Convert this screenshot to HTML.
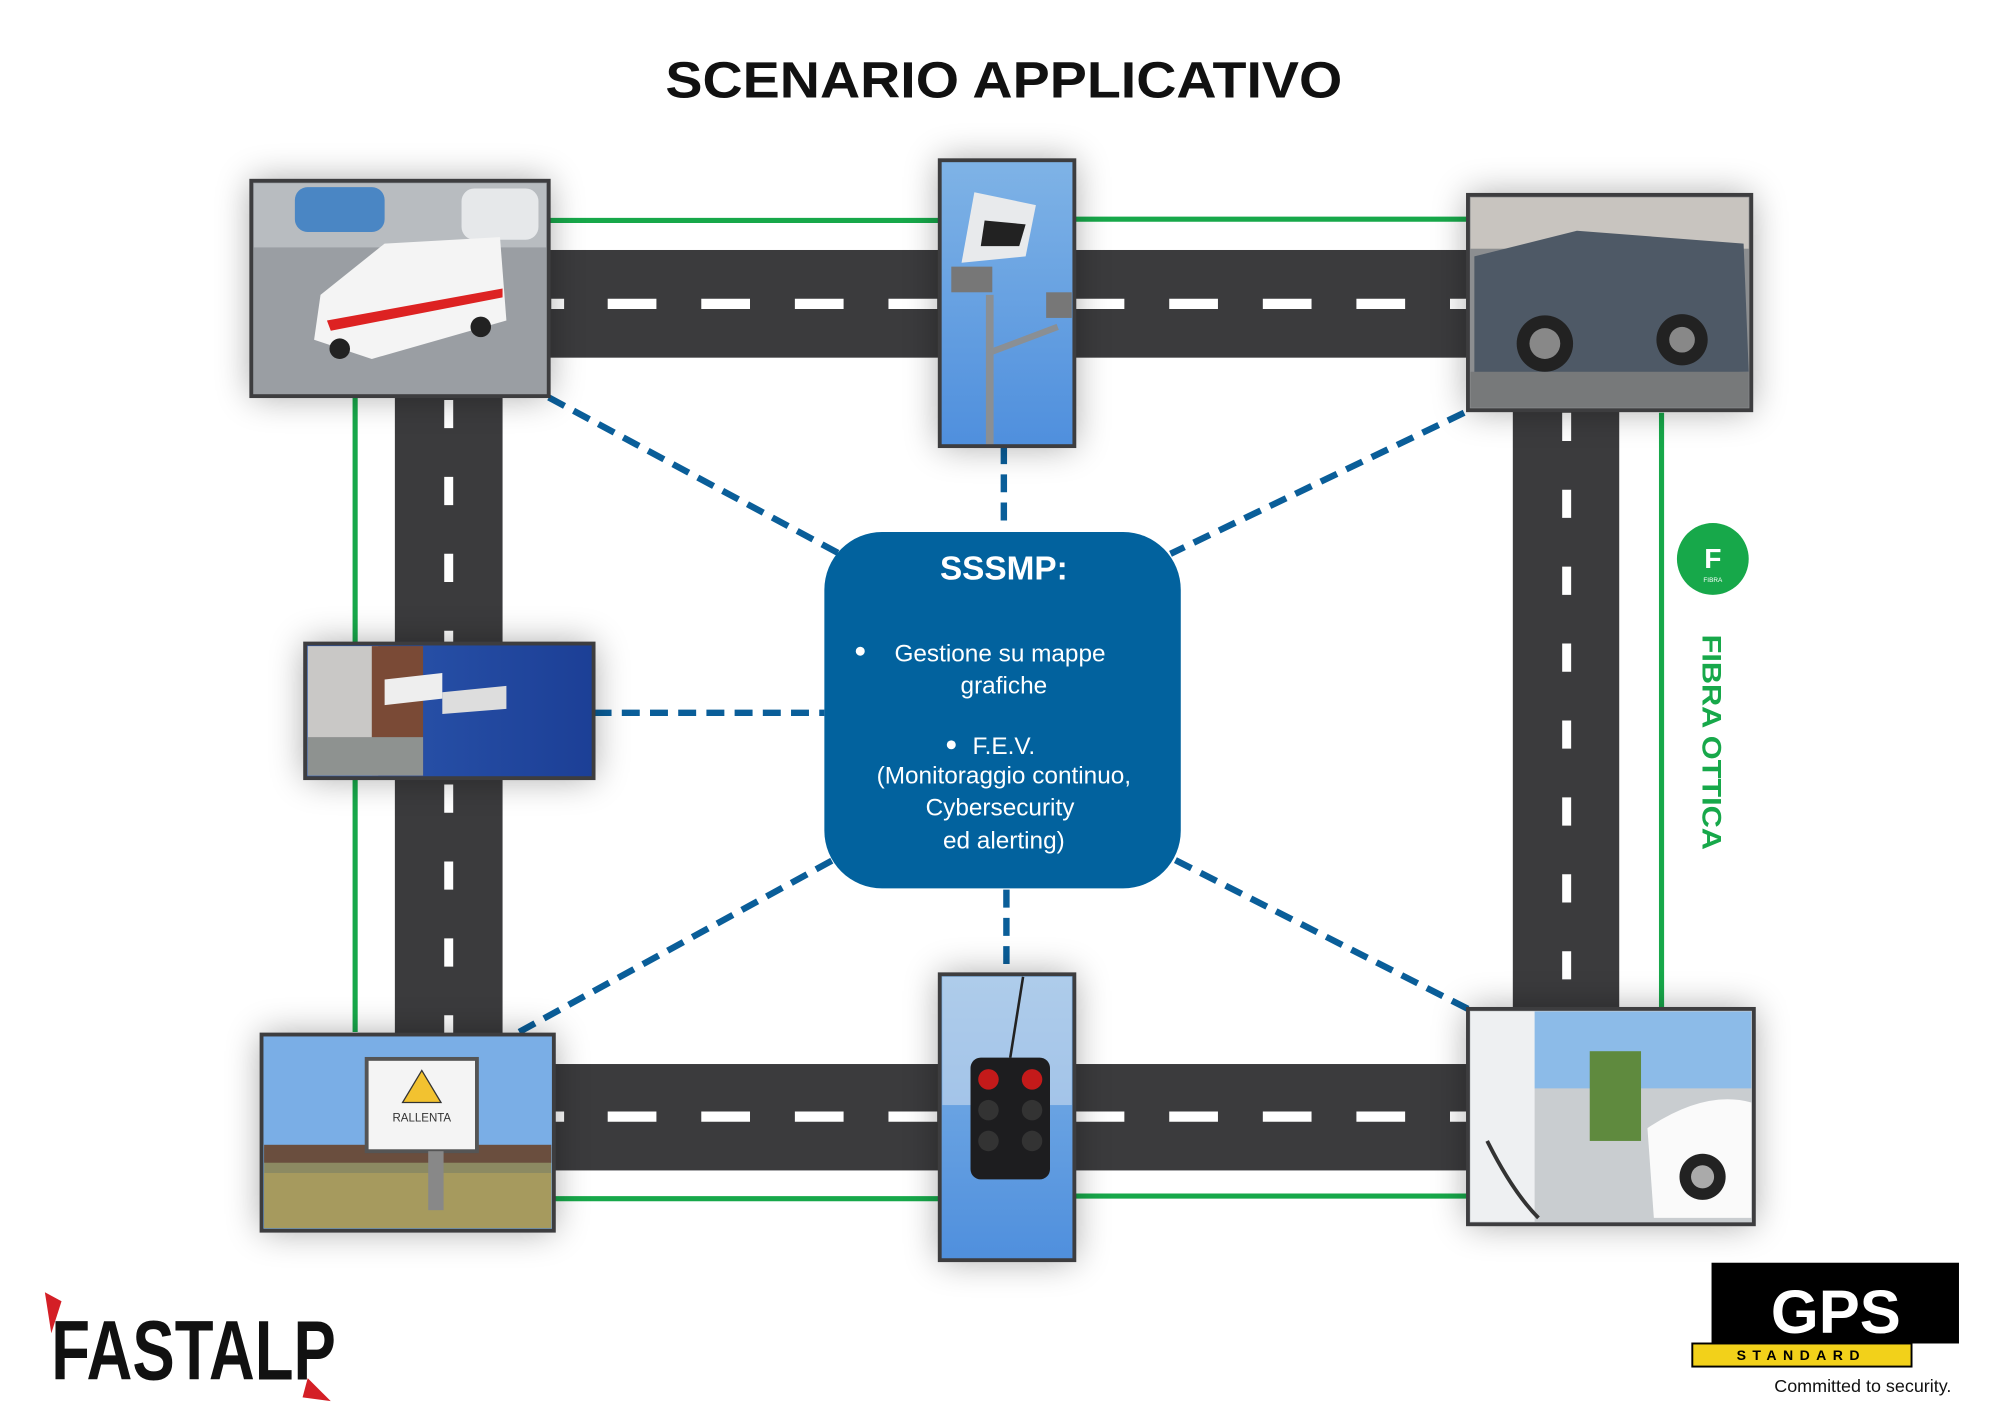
<!DOCTYPE html>
<html><head><meta charset="utf-8"><style>
html,body{margin:0;padding:0;background:#fff;}
svg{display:block;}
text{font-family:"Liberation Sans",sans-serif;}
</style></head><body>
<svg width="2000" height="1414" viewBox="0 0 1560 1103" preserveAspectRatio="none" xmlns="http://www.w3.org/2000/svg">
<defs>
<filter id="sh" x="-30%" y="-30%" width="160%" height="160%"><feGaussianBlur stdDeviation="14"/></filter>
<linearGradient id="sky" x1="0" y1="0" x2="0" y2="1"><stop offset="0" stop-color="#7fb3e6"/><stop offset="1" stop-color="#4f8fdd"/></linearGradient>
<linearGradient id="sky2" x1="0" y1="0" x2="1" y2="0"><stop offset="0" stop-color="#2d59b0"/><stop offset="1" stop-color="#1c3f96"/></linearGradient>
</defs>
<rect width="1560" height="1103" fill="#fff"/>
<text x="519" y="76" font-size="40" font-weight="bold" fill="#111" textLength="528" lengthAdjust="spacingAndGlyphs">SCENARIO APPLICATIVO</text>

<g stroke="#17a84a" stroke-width="4" fill="none">
<line x1="428" y1="172" x2="733" y2="172"/><line x1="838" y1="171" x2="1145" y2="171"/>
<line x1="432" y1="935" x2="733" y2="935"/><line x1="838" y1="933" x2="1145" y2="933"/>
<line x1="277" y1="310" x2="277" y2="502"/><line x1="277" y1="607" x2="277" y2="805"/>
<line x1="1296" y1="322" x2="1296" y2="787"/>
</g>

<g fill="#3b3b3d">
<rect x="428" y="195" width="717" height="84"/>
<rect x="430" y="830" width="715" height="83"/>
<rect x="308" y="305" width="84" height="505"/>
<rect x="1180" y="318" width="83" height="472"/>
</g>
<g stroke="#fff" stroke-width="8">
<line x1="430" y1="237" x2="1145" y2="237" stroke-dasharray="10 34 38 35 38 35 38 35 38 35 38 35 38 35 38 35 38 35 38 35 38 35"/>
<line x1="430" y1="871" x2="1145" y2="871" stroke-dasharray="10 34 38 35 38 35 38 35 38 35 38 35 38 35 38 35 38 35 38 35 38 35"/>
</g>
<g stroke="#fff" stroke-width="7">
<line x1="350" y1="312" x2="350" y2="808" stroke-dasharray="22 38"/>
<line x1="1222" y1="322" x2="1222" y2="787" stroke-dasharray="22 38"/>
</g>

<g stroke="#0a5e99" stroke-width="5" stroke-dasharray="14 8" fill="none">
<line x1="428" y1="310" x2="655" y2="432"/>
<line x1="783" y1="348" x2="783" y2="414"/>
<line x1="1142" y1="322" x2="913" y2="432"/>
<line x1="463" y1="556" x2="643" y2="556"/>
<line x1="405" y1="805" x2="655" y2="668"/>
<line x1="785" y1="694" x2="785" y2="757"/>
<line x1="1145" y1="787" x2="915" y2="670"/>
</g>

<g fill="#000" opacity="0.35" filter="url(#sh)">
<rect x="196" y="141" width="232" height="168"/>
<rect x="733" y="125" width="105" height="223"/>
<rect x="1145" y="152" width="221" height="168"/>
<rect x="238" y="502" width="225" height="105"/>
<rect x="204" y="807" width="228" height="153"/>
<rect x="733" y="760" width="105" height="223"/>
<rect x="1145" y="787" width="223" height="168"/>
</g>

<rect x="196" y="141" width="232" height="168" fill="#9a9ea3"/>
<rect x="198" y="143" width="228" height="50" fill="#b8bcc0"/>
<rect x="230" y="146" width="70" height="35" rx="10" fill="#4a86c4"/>
<rect x="360" y="147" width="60" height="40" rx="10" fill="#e6e8ea"/>
<path d="M250 230 L300 190 L390 185 L395 250 L290 280 L245 265Z" fill="#f4f4f4"/>
<path d="M255 250 L392 225 L392 232 L258 258Z" fill="#d22"/>
<circle cx="265" cy="272" r="8" fill="#222"/><circle cx="375" cy="255" r="8" fill="#222"/>
<rect x="196" y="141" width="232" height="168" fill="none" stroke="#3d3d3f" stroke-width="3"/>

<rect x="733" y="125" width="105" height="223" fill="url(#sky)"/>
<path d="M760 150 L808 160 L800 200 L750 205Z" fill="#e8eaec"/>
<path d="M768 172 L800 175 L795 192 L765 192Z" fill="#222"/>
<rect x="742" y="208" width="32" height="20" fill="#777"/>
<rect x="816" y="228" width="20" height="20" fill="#777"/>
<rect x="769" y="230" width="6" height="118" fill="#8a8f94"/>
<line x1="772" y1="275" x2="825" y2="255" stroke="#8a8f94" stroke-width="5"/>
<rect x="733" y="125" width="105" height="223" fill="none" stroke="#3d3d3f" stroke-width="3"/>

<rect x="1145" y="152" width="221" height="168" fill="#8c8e90"/>
<rect x="1147" y="154" width="217" height="40" fill="#c8c4bf"/>
<path d="M1150 200 L1230 180 L1360 190 L1364 290 L1150 295Z" fill="#4e5966"/>
<rect x="1147" y="290" width="217" height="28" fill="#77797a"/>
<circle cx="1205" cy="268" r="22" fill="#222"/><circle cx="1205" cy="268" r="12" fill="#888"/>
<circle cx="1312" cy="265" r="20" fill="#222"/><circle cx="1312" cy="265" r="10" fill="#888"/>
<rect x="1145" y="152" width="221" height="168" fill="none" stroke="#3d3d3f" stroke-width="3"/>

<rect x="238" y="502" width="225" height="105" fill="url(#sky2)"/>
<rect x="240" y="504" width="55" height="101" fill="#c9c8c6"/>
<rect x="290" y="504" width="40" height="101" fill="#7a4a36"/>
<rect x="240" y="575" width="90" height="30" fill="#8e9290"/>
<path d="M300 530 L345 525 L345 545 L300 550Z" fill="#eee"/>
<path d="M345 540 L395 535 L395 553 L345 557Z" fill="#ddd"/>
<rect x="238" y="502" width="225" height="105" fill="none" stroke="#3d3d3f" stroke-width="3"/>

<rect x="204" y="807" width="228" height="153" fill="#7aaee6"/>
<rect x="206" y="895" width="224" height="63" fill="#8c8a62"/>
<rect x="206" y="915" width="224" height="43" fill="#a69a5e"/>
<rect x="206" y="893" width="224" height="14" fill="#6a4e3e"/>
<rect x="286" y="826" width="86" height="72" fill="#f4f4f4" stroke="#555" stroke-width="3"/>
<path d="M329 835 L344 860 L314 860Z" fill="#f2c230" stroke="#333" stroke-width="1"/>
<text x="329" y="875" text-anchor="middle" font-size="9" fill="#333">RALLENTA</text>
<rect x="334" y="898" width="12" height="46" fill="#888"/>
<rect x="204" y="807" width="228" height="153" fill="none" stroke="#3d3d3f" stroke-width="3"/>

<rect x="733" y="760" width="105" height="223" fill="url(#sky)"/>
<rect x="735" y="762" width="101" height="100" fill="#dde6ef" opacity="0.5"/>
<rect x="757" y="825" width="62" height="95" rx="8" fill="#1d1d1f"/>
<circle cx="771" cy="842" r="8" fill="#c41a1a"/><circle cx="805" cy="842" r="8" fill="#c41a1a"/>
<circle cx="771" cy="866" r="8" fill="#333"/><circle cx="805" cy="866" r="8" fill="#333"/>
<circle cx="771" cy="890" r="8" fill="#333"/><circle cx="805" cy="890" r="8" fill="#333"/>
<line x1="788" y1="825" x2="798" y2="762" stroke="#222" stroke-width="2"/>
<rect x="733" y="760" width="105" height="223" fill="none" stroke="#3d3d3f" stroke-width="3"/>

<rect x="1145" y="787" width="223" height="168" fill="#c9cdd0"/>
<rect x="1195" y="789" width="171" height="60" fill="#8cbbe8"/>
<rect x="1147" y="789" width="50" height="164" fill="#eef0f2"/>
<rect x="1240" y="820" width="40" height="70" fill="#5f8a3e"/>
<path d="M1285 880 Q1330 850 1366 860 L1366 950 L1290 950Z" fill="#fafafa"/>
<circle cx="1328" cy="918" r="18" fill="#222"/><circle cx="1328" cy="918" r="9" fill="#aaa"/>
<path d="M1160 890 Q1180 930 1200 950" stroke="#333" stroke-width="3" fill="none"/>
<rect x="1145" y="787" width="223" height="168" fill="none" stroke="#3d3d3f" stroke-width="3"/>

<rect x="643" y="415" width="278" height="278" rx="45" fill="#02629e"/>
<g fill="#fff" text-anchor="middle">
<text x="783" y="452" font-size="26" font-weight="bold">SSSMP:</text>
<circle cx="671" cy="508" r="3.5"/>
<text x="780" y="516" font-size="19">Gestione su mappe</text>
<text x="783" y="541" font-size="19">grafiche</text>
<circle cx="742" cy="581" r="3.5"/>
<text x="783" y="588" font-size="19">F.E.V.</text>
<text x="783" y="611" font-size="19">(Monitoraggio continuo,</text>
<text x="780" y="636" font-size="19">Cybersecurity</text>
<text x="783" y="662" font-size="19">ed alerting)</text>
</g>

<circle cx="1336" cy="436" r="28" fill="#17a84a"/>
<text x="1336" y="443" text-anchor="middle" font-size="22" font-weight="bold" fill="#fff">F</text>
<text x="1336" y="454" text-anchor="middle" font-size="5" fill="#fff">FIBRA</text>
<text transform="translate(1328,495) rotate(90)" font-size="21" font-weight="bold" fill="#17a84a" textLength="168" lengthAdjust="spacingAndGlyphs">FIBRA OTTICA</text>

<path d="M35 1008 L48 1015 L40 1040Z" fill="#d41f26"/>
<path d="M240 1075 L258 1093 L236 1090Z" fill="#d41f26"/>
<text x="40" y="1076" font-size="66" font-weight="bold" fill="#111" textLength="222" lengthAdjust="spacingAndGlyphs">FASTALP</text>

<rect x="1335" y="985" width="193" height="63" fill="#000"/>
<text x="1432" y="1040" text-anchor="middle" font-size="48" font-weight="bold" fill="#fff">GPS</text>
<rect x="1320" y="1048" width="171" height="18" fill="#f2d11a" stroke="#000" stroke-width="1.5"/>
<text x="1405" y="1061" text-anchor="middle" font-size="11" font-weight="bold" fill="#000" letter-spacing="5">STANDARD</text>
<text x="1453" y="1086" text-anchor="middle" font-size="14" fill="#111">Committed to security.</text>
</svg>
</body></html>
